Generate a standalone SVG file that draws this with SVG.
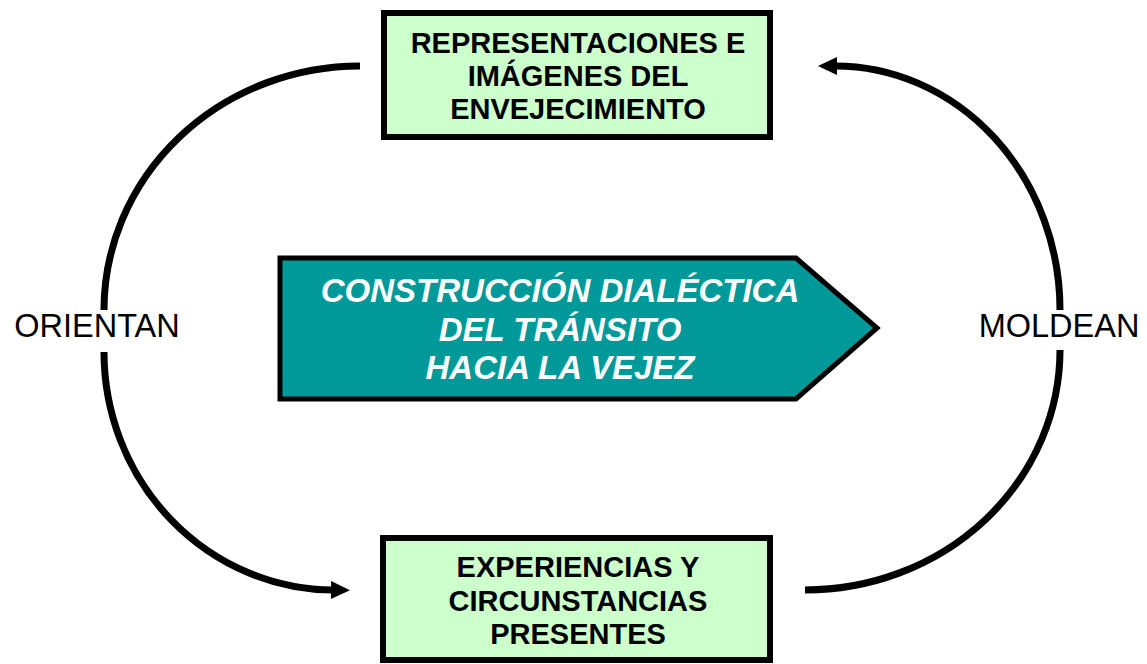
<svg xmlns="http://www.w3.org/2000/svg" width="1147" height="664" viewBox="0 0 1147 664">
<style>
.box{fill:#CCFFCC;stroke:#000;stroke-width:6}
.bt{font-family:"Liberation Sans",Arial,sans-serif;font-weight:bold;font-size:29px;fill:#000;text-anchor:middle}
.ct{font-family:"Liberation Sans",Arial,sans-serif;font-weight:bold;font-style:italic;font-size:33px;fill:#fff;text-anchor:middle}
.lbl{font-family:"Liberation Sans",Arial,sans-serif;font-size:32.5px;fill:#000;text-anchor:middle}
.arc{fill:none;stroke:#000;stroke-width:7}
</style>
<defs>
<marker id="ah" markerUnits="userSpaceOnUse" markerWidth="22" markerHeight="20" refX="2" refY="9" orient="auto" overflow="visible">
<path d="M0,0 L19,9 L0,18 z" fill="#000"/>
</marker>
</defs>
<rect width="1147" height="664" fill="#fff"/>
<g id="connectors">
<path class="arc" d="M360,66 A256,244 0 0 0 104,310"/>
<path class="arc" d="M104,352 A231,238 0 0 0 333,590" marker-end="url(#ah)"/>
<path class="arc" d="M805,590 A255,240 0 0 0 1060,350"/>
<path class="arc" d="M1060,310 A225,244 0 0 0 835,66" marker-end="url(#ah)"/>
</g>
<g id="top">
<rect class="box" x="384" y="13" width="386" height="124"/>
<text class="bt" x="578" y="53">REPRESENTACIONES E</text>
<text class="bt" x="578" y="86">IMÁGENES DEL</text>
<text class="bt" x="578" y="119">ENVEJECIMIENTO</text>
</g>
<g id="center">
<polygon points="280,258 796,258 877,328 796,399 280,399" fill="#009999" stroke="#000" stroke-width="5" stroke-linejoin="miter"/>
<text class="ct" x="560" y="302">CONSTRUCCIÓN DIALÉCTICA</text>
<text class="ct" x="560" y="341">DEL TRÁNSITO</text>
<text class="ct" x="560" y="379">HACIA LA VEJEZ</text>
</g>
<g id="bottom">
<rect class="box" x="383" y="538" width="387" height="122"/>
<text class="bt" x="578" y="577">EXPERIENCIAS Y</text>
<text class="bt" x="578" y="611">CIRCUNSTANCIAS</text>
<text class="bt" x="578" y="644">PRESENTES</text>
</g>
<g id="orientan"><text class="lbl" x="97" y="337">ORIENTAN</text></g>
<g id="moldean"><text class="lbl" x="1059" y="337">MOLDEAN</text></g>
</svg>
